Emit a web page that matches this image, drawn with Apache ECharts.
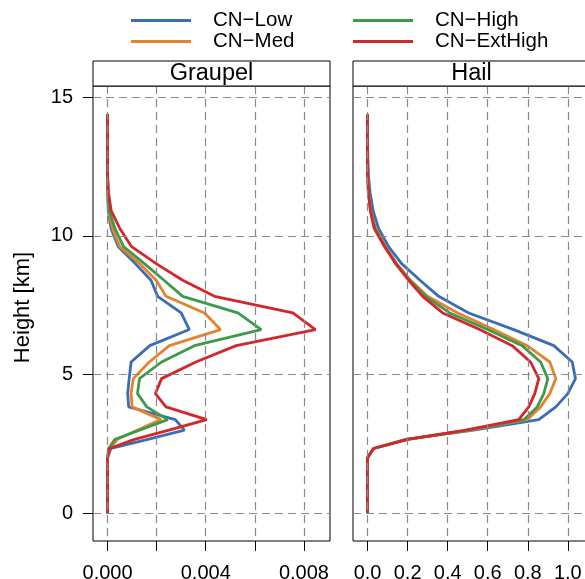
<!DOCTYPE html>
<html>
<head>
<meta charset="utf-8">
<script src="https://cdn.jsdelivr.net/npm/echarts@6/dist/echarts.min.js"></script>
<style>
  html, body { margin: 0; padding: 0; background: #ffffff; }
  #chart { width: 585px; height: 579px; }
</style>
</head>
<body>
<div id="chart"></div>
<script>
// Model levels (km) shared by every profile
const heights = [0, 0.5, 1.0, 1.5, 2.0, 2.33, 2.66, 2.99, 3.37, 3.83, 4.31, 4.85, 5.45, 6.04,
                 6.62, 7.22, 7.82, 8.40, 9.0, 9.61, 10.27, 10.9, 11.55, 12.2, 12.9, 13.6, 14.4];

const seriesNames = ['CN−Low', 'CN−Med', 'CN−High', 'CN−ExtHigh'];
const seriesColors = ['#3b6db4', '#e5832d', '#3d9a4b', '#d2272b'];

// Graupel mixing-ratio profiles
const graupelLow     = [0, 0, 0, 0, 0, 0.00014, 0.00164, 0.00313, 0.00276, 0.00086, 0.00082, 0.00088, 0.00096, 0.00172,
                        0.00333, 0.00300, 0.00204, 0.00177, 0.00113, 0.00044, 0.00014, 0.00003, 0, 0, 0, 0, 0];
const graupelMed     = [0, 0, 0, 0, 0, 0.00010, 0.00040, 0.00120, 0.00218, 0.00100, 0.00096, 0.00105, 0.00170, 0.00252,
                        0.00460, 0.00395, 0.00238, 0.00198, 0.00130, 0.00050, 0.00020, 0.00005, 0.00001, 0, 0, 0, 0];
const graupelHigh    = [0, 0, 0, 0, 0, 0.00004, 0.00030, 0.00130, 0.00245, 0.00160, 0.00122, 0.00130, 0.00220, 0.00354,
                        0.00626, 0.00531, 0.00306, 0.00230, 0.00150, 0.00065, 0.00030, 0.00007, 0.00002, 0, 0, 0, 0];
const graupelExtHigh = [0, 0, 0, 0, 0, 0.00008, 0.00110, 0.00250, 0.00404, 0.00238, 0.00195, 0.00220, 0.00360, 0.00524,
                        0.00847, 0.00755, 0.00436, 0.00306, 0.00198, 0.00098, 0.00050, 0.00015, 0.00004, 0, 0, 0, 0];

// Hail mixing-ratio profiles
const hailLow     = [0, 0, 0, 0, 0, 0.03, 0.19, 0.53, 0.855, 0.94, 1.00, 1.038, 1.022, 0.93,
                     0.73, 0.505, 0.355, 0.262, 0.17, 0.105, 0.055, 0.028, 0.013, 0.004, 0.001, 0, 0];
const hailMed     = [0, 0, 0, 0, 0, 0.03, 0.20, 0.51, 0.797, 0.864, 0.91, 0.94, 0.91, 0.797,
                     0.63, 0.45, 0.30, 0.215, 0.145, 0.09, 0.04, 0.016, 0.005, 0.001, 0, 0, 0];
const hailHigh    = [0, 0, 0, 0, 0, 0.03, 0.20, 0.50, 0.78, 0.847, 0.88, 0.90, 0.864, 0.772,
                     0.60, 0.41, 0.29, 0.21, 0.142, 0.088, 0.038, 0.015, 0.005, 0.001, 0, 0, 0];
const hailExtHigh = [0, 0, 0, 0, 0, 0.03, 0.20, 0.49, 0.755, 0.805, 0.835, 0.855, 0.814, 0.722,
                     0.56, 0.375, 0.275, 0.205, 0.14, 0.085, 0.033, 0.014, 0.004, 0.001, 0, 0, 0];

const panelTitles = ['Graupel', 'Hail'];
const panelProfiles = [
  [graupelLow, graupelMed, graupelHigh, graupelExtHigh],
  [hailLow, hailMed, hailHigh, hailExtHigh]
];

// Tick values
const heightTicks = [0, 5, 10, 15];
const graupelTicks = [0, 0.002, 0.004, 0.006, 0.008];
const graupelTickLabels = [0, 0.004, 0.008];
const hailTicks = [0, 0.2, 0.4, 0.6, 0.8, 1.0];

// ---------- layout ----------
const FONT = 'Liberation Sans';
const panelTop = 86, panelHeight = 455, panelWidth = 237;
const panelLefts = [93, 353];
const stripHeight = 25;
const pad = 0.07;   // axis padding fraction around the data range
const LINE_W = 2.8;

const padMin = e => e.min - pad * (e.max - e.min);
const padMax = e => e.max + pad * (e.max - e.min);

const gridLine = { show: true, lineStyle: { color: '#8a8a8a', width: 1.2, type: [8, 5] } };
const tickStyle = { color: '#000', width: 1 };
const labelStyle = { color: '#000', fontSize: 20, fontFamily: FONT };

const grids = panelLefts.map(l => ({
  left: l, top: panelTop, width: panelWidth, height: panelHeight,
  show: true, borderColor: '#000', borderWidth: 1, backgroundColor: 'transparent',
  containLabel: false, outerBoundsMode: 'none'
}));

const xAxes = [
  {
    gridIndex: 0, type: 'value', min: padMin, max: padMax, z: 5,
    axisLine: { show: false, onZero: false },
    axisTick: { show: true, length: 10, lineStyle: tickStyle, customValues: graupelTicks },
    axisLabel: Object.assign({ margin: 22, customValues: graupelTickLabels, formatter: v => v.toFixed(3) }, labelStyle),
    splitLine: gridLine
  },
  {
    gridIndex: 1, type: 'value', min: padMin, max: padMax, z: 5,
    axisLine: { show: false, onZero: false },
    axisTick: { show: true, length: 10, lineStyle: tickStyle, customValues: hailTicks },
    axisLabel: Object.assign({ margin: 22, customValues: hailTicks, formatter: v => v.toFixed(1) }, labelStyle),
    splitLine: gridLine
  }
];

const yAxes = [
  {
    gridIndex: 0, type: 'value', min: padMin, max: padMax, z: 5,
    axisLine: { show: false, onZero: false },
    axisTick: { show: true, length: 10, lineStyle: tickStyle, customValues: heightTicks },
    axisLabel: Object.assign({ margin: 20, customValues: heightTicks }, labelStyle),
    splitLine: gridLine
  },
  {
    gridIndex: 1, type: 'value', min: padMin, max: padMax, z: 5,
    axisLine: { show: false, onZero: false },
    axisTick: { show: false, customValues: heightTicks },
    axisLabel: { show: false },
    splitLine: gridLine
  }
];

const series = [];
panelProfiles.forEach((profiles, p) => {
  profiles.forEach((vals, k) => {
    series.push({
      name: seriesNames[k],
      type: 'line',
      xAxisIndex: p, yAxisIndex: p,
      data: heights.map((h, i) => [vals[i], h]),
      symbol: 'none', showSymbol: false,
      lineStyle: { color: seriesColors[k], width: LINE_W },
      itemStyle: { color: seriesColors[k] },
      z: 2, silent: true, animation: false
    });
  });
});

// Legend keys are plain coloured strokes, two columns of two rows
const legendCommon = {
  orient: 'vertical', top: 10, padding: 0,
  icon: 'rect', itemWidth: 60, itemHeight: LINE_W, itemGap: 0,
  itemStyle: { borderWidth: 0 },
  selectedMode: false,
  textStyle: { color: '#000', fontSize: 20.5, fontFamily: FONT, lineHeight: 20, padding: [0, 0, 0, 17] }
};

const graphics = [];
panelLefts.forEach((l, p) => {
  graphics.push({
    type: 'rect', z: 10,
    shape: { x: l, y: panelTop - stripHeight, width: panelWidth, height: stripHeight },
    style: { fill: '#ffffff', stroke: '#000', lineWidth: 1 }
  });
  graphics.push({
    type: 'text', z: 11,
    x: l + panelWidth / 2, y: panelTop - stripHeight / 2,
    style: { text: panelTitles[p], font: '23.5px "' + FONT + '"', fill: '#000',
             textAlign: 'center', textVerticalAlign: 'middle' }
  });
});
graphics.push({
  type: 'text', z: 11,
  x: 22.5, y: 307.5, rotation: Math.PI / 2,
  style: { text: 'Height [km]', font: '22px "' + FONT + '"', fill: '#000',
           textAlign: 'center', textVerticalAlign: 'middle' }
});

const chart = echarts.init(document.getElementById('chart'), null, { renderer: 'canvas' });
chart.setOption({
  animation: false,
  backgroundColor: '#ffffff',
  textStyle: { fontFamily: FONT },
  legend: [
    Object.assign({ left: 131, data: [seriesNames[0], seriesNames[1]] }, legendCommon),
    Object.assign({ left: 353, data: [seriesNames[2], seriesNames[3]] }, legendCommon)
  ],
  grid: grids,
  xAxis: xAxes,
  yAxis: yAxes,
  series: series,
  graphic: graphics
});
</script>
</body>
</html>
